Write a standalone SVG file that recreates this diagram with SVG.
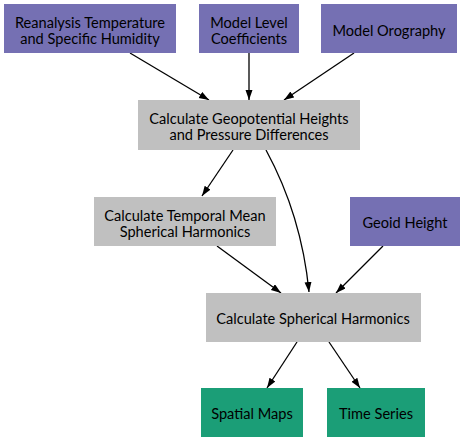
<svg xmlns="http://www.w3.org/2000/svg" width="465" height="443" viewBox="0 0 465 443">
<style>
.in{fill:#7570b3}
.pr{fill:#c0c0c0}
.out{fill:#1b9e77}
text{font-family:Lato,"Liberation Sans",sans-serif;font-size:14.6px;fill:#000;text-anchor:middle}
.e{fill:none;stroke:#000;stroke-width:1.3}
</style>
<defs>
<marker id="ah" markerUnits="userSpaceOnUse" markerWidth="11" markerHeight="8" refX="10" refY="3.5" orient="auto" viewBox="0 0 11 8">
<path d="M0,0 L10,3.5 L0,7 z" fill="#000"/>
</marker>
</defs>
<rect width="465" height="443" fill="#fff"/>
<g id="connectors">
<path class="e" marker-end="url(#ah)" d="M130,53 L209,100"/>
<path class="e" marker-end="url(#ah)" d="M249,53 L249,100"/>
<path class="e" marker-end="url(#ah)" d="M354,53 L284,100"/>
<path class="e" marker-end="url(#ah)" d="M233,150 L202,196"/>
<path class="e" marker-end="url(#ah)" d="M266,150 C285,185 303,230 309,292"/>
<path class="e" marker-end="url(#ah)" d="M217,246 L281,293"/>
<path class="e" marker-end="url(#ah)" d="M383,246 L336,293"/>
<path class="e" marker-end="url(#ah)" d="M297,342 L267,388"/>
<path class="e" marker-end="url(#ah)" d="M329,342 L360,388"/>
</g>
<g id="reanalysis">
<rect class="in" x="4" y="4" width="172" height="49"/>
<text x="90" y="28">Reanalysis Temperature</text>
<text x="90" y="44">and Specific Humidity</text>
</g>
<g id="model_level">
<rect class="in" x="199" y="4" width="100" height="49"/>
<text x="249" y="28">Model Level</text>
<text x="249" y="44">Coefficients</text>
</g>
<g id="orography">
<rect class="in" x="321" y="4" width="136" height="49"/>
<text x="389" y="36">Model Orography</text>
</g>
<g id="geopotential">
<rect class="pr" x="138" y="100" width="222" height="50"/>
<text x="249" y="124">Calculate Geopotential Heights</text>
<text x="249" y="140">and Pressure Differences</text>
</g>
<g id="temporal_mean">
<rect class="pr" x="94" y="197" width="182" height="49"/>
<text x="185" y="220.5">Calculate Temporal Mean</text>
<text x="185" y="236.5">Spherical Harmonics</text>
</g>
<g id="geoid">
<rect class="in" x="350" y="197" width="110" height="49"/>
<text x="405" y="228">Geoid Height</text>
</g>
<g id="spherical">
<rect class="pr" x="206" y="293" width="215" height="49"/>
<text x="313" y="324">Calculate Spherical Harmonics</text>
</g>
<g id="spatial_maps">
<rect class="out" x="201" y="388" width="102" height="49"/>
<text x="252" y="419">Spatial Maps</text>
</g>
<g id="time_series">
<rect class="out" x="327" y="388" width="98" height="49"/>
<text x="376" y="419">Time Series</text>
</g>
</svg>
